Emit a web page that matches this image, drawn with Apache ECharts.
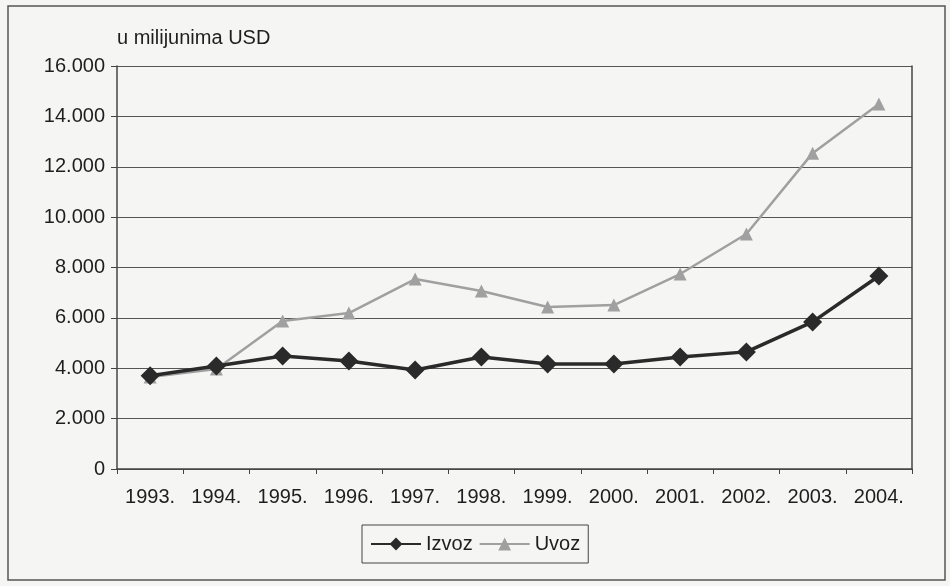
<!DOCTYPE html>
<html>
<head>
<meta charset="utf-8">
<script src="https://cdn.jsdelivr.net/npm/echarts@6/dist/echarts.min.js"></script>
<style>
  html, body { margin: 0; padding: 0; background: #f5f5f3; }
  #chart { width: 950px; height: 586px; }
</style>
</head>
<body>
<div id="chart"></div>
<script>
// godine
const years = ['1993.', '1994.', '1995.', '1996.', '1997.', '1998.', '1999.', '2000.', '2001.', '2002.', '2003.', '2004.']
// izvoz i uvoz, u milijunima USD (procjena s grafa)
const izvoz = [3700, 4090, 4490, 4290, 3930, 4450, 4170, 4170, 4450, 4650, 5840, 7660]
const uvoz = [3650, 3970, 5880, 6190, 7540, 7070, 6430, 6510, 7740, 9330, 12540, 14490]

const fontFam = '"Liberation Sans", Arial, sans-serif'

let chart = echarts.init(document.getElementById('chart'))
chart.setOption({
  backgroundColor: '#f5f5f3',
  animation: false,
  title: {
    text: 'u milijunima USD',
    left: 112,
    top: 23,
    textStyle: { fontFamily: fontFam, fontSize: 20, fontWeight: 'normal', color: '#1e1e1e' }
  },
  graphic: [{
    type: 'rect',
    shape: { x: 8, y: 6, width: 937, height: 574 },
    style: { fill: 'none', stroke: '#555', lineWidth: 1.5 }
  }],
  grid: { left: 117, right: 38, top: 66, bottom: 117 },
  legend: {
    data: ['Izvoz', 'Uvoz'],
    top: 525,
    left: 362,
    itemWidth: 50,
    itemHeight: 16,
    itemGap: 6,
    padding: [9, 8, 9, 8],
    borderColor: '#444',
    borderWidth: 1,
    textStyle: { fontFamily: fontFam, fontSize: 20, color: '#1e1e1e' }
  },
  xAxis: {
    type: 'category',
    data: years,
    boundaryGap: true,
    axisLine: { lineStyle: { color: '#444', width: 1.5 } },
    axisTick: { show: true, length: 5, lineStyle: { color: '#444' } },
    axisLabel: { fontFamily: fontFam, fontSize: 20, color: '#1e1e1e', margin: 18 }
  },
  yAxis: [{
    type: 'value',
    min: 0,
    max: 16000,
    interval: 2000,
    axisLine: { show: true, lineStyle: { color: '#444', width: 1.5 } },
    axisTick: { show: true, length: 6, lineStyle: { color: '#444' } },
    axisLabel: {
      fontFamily: fontFam, fontSize: 20, color: '#1e1e1e', margin: 12,
      formatter: v => v === 0 ? '0' : (v / 1000).toFixed(3)
    },
    splitLine: { show: true, lineStyle: { color: '#555', width: 1.2 } }
  }, {
    type: 'value',
    position: 'right',
    min: 0,
    max: 16000,
    interval: 2000,
    axisLine: { show: true, lineStyle: { color: '#444', width: 1.5 } },
    axisTick: { show: false },
    axisLabel: { show: false },
    splitLine: { show: false }
  }],
  series: [{
    name: 'Izvoz',
    type: 'line',
    data: izvoz,
    symbol: 'diamond',
    symbolSize: 19,
    lineStyle: { color: '#2a2a2a', width: 3.5 },
    itemStyle: { color: '#2a2a2a' },
    z: 3
  }, {
    name: 'Uvoz',
    type: 'line',
    data: uvoz,
    symbol: 'triangle',
    symbolSize: 13,
    lineStyle: { color: '#a0a0a0', width: 2.5 },
    itemStyle: { color: '#a0a0a0' },
    z: 2
  }]
})
</script>
</body>
</html>
